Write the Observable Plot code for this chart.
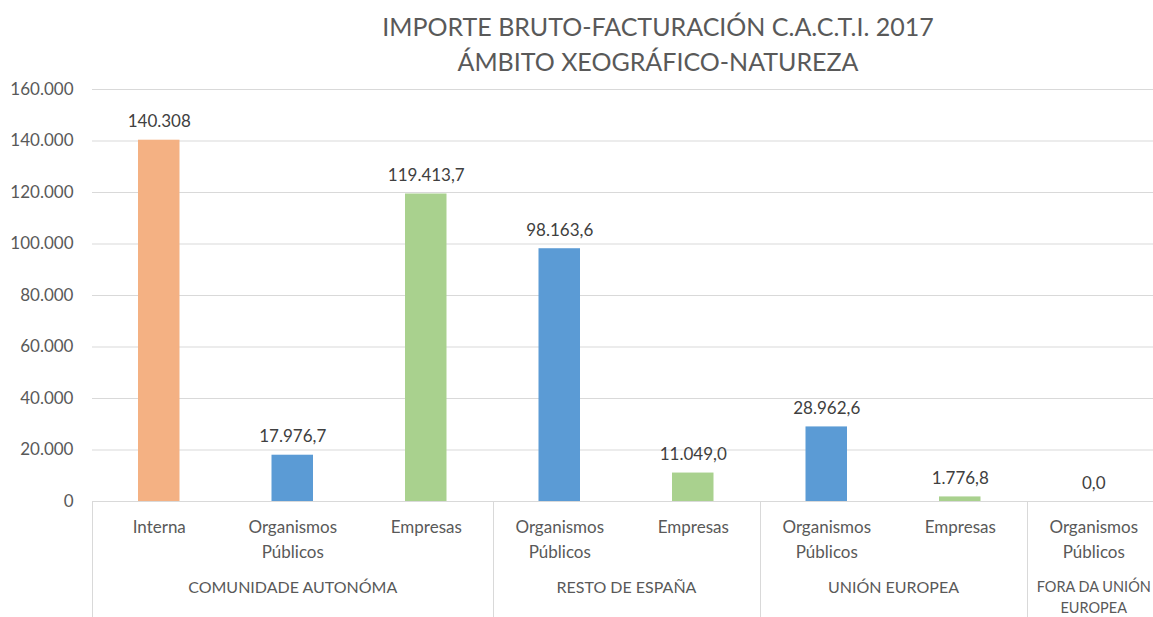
<!DOCTYPE html>
<html>
<head>
<meta charset="utf-8">
<script src="https://cdn.jsdelivr.net/npm/d3@7"></script>
<script src="https://cdn.jsdelivr.net/npm/@observablehq/plot@0.6"></script>
<style>
  html, body { margin: 0; padding: 0; background: #fff; overflow: hidden; }
  #wrap { position: relative; width: 1153px; height: 617px; overflow: hidden; }
  #title { position: absolute; top: 9px; left: 0; width: 1153px; box-sizing: border-box; padding-left: 163px;
           text-align: center; font-family: Lato, "Open Sans", sans-serif; font-size: 25px; line-height: 35px; color: #595959; }
</style>
</head>
<body>
<div id="wrap">
  <div id="title">IMPORTE BRUTO-FACTURACIÓN C.A.C.T.I. 2017<br>ÁMBITO XEOGRÁFICO-NATUREZA</div>
  <div id="chart"></div>
</div>
<script>
const categories = ["Interna", "Organismos\nPúblicos", "Empresas", "Organismos\nPúblicos", "Empresas", "Organismos\nPúblicos", "Empresas", "Organismos\nPúblicos"];
const natures = ["Interna", "Organismos Públicos", "Empresas", "Organismos Públicos", "Empresas", "Organismos Públicos", "Empresas", "Organismos Públicos"];
const groups = ["COMUNIDADE AUTONÓMA", "COMUNIDADE AUTONÓMA", "COMUNIDADE AUTONÓMA", "RESTO DE ESPAÑA", "RESTO DE ESPAÑA", "UNIÓN EUROPEA", "UNIÓN EUROPEA", "FORA DA UNIÓN\nEUROPEA"];
const values = [140308, 17976.7, 119413.7, 98163.6, 11049.0, 28962.6, 1776.8, 0.0];
const valueLabels = ["140.308", "17.976,7", "119.413,7", "98.163,6", "11.049,0", "28.962,6", "1.776,8", "0,0"];
const yTicks = [0, 20000, 40000, 60000, 80000, 100000, 120000, 140000, 160000];
const natureDomain = ["Interna", "Organismos Públicos", "Empresas"];
const natureColors = ["#F4B183", "#5B9BD5", "#A9D18E"];

const rows = values.map((v, i) => ({
  i0: i, i1: i + 1, mid: i + 0.5, value: v, label: valueLabels[i],
  category: categories[i], nature: natures[i], group: groups[i]
}));

const groupRows = [];
rows.forEach(r => {
  const last = groupRows[groupRows.length - 1];
  if (last && last.name === r.group) last.end = r.i1;
  else groupRows.push({name: r.group, start: r.i0, end: r.i1});
});
groupRows.forEach(g => g.mid = (g.start + g.end) / 2);
const bounds = [0, ...groupRows.map(g => g.end)];
const innerGroups = groupRows.filter(g => g.end < categories.length);
const edgeGroups = groupRows.filter(g => g.end >= categories.length);

const locale = d3.formatLocale({decimal: ",", thousands: ".", grouping: [3], currency: ["", "€"]});
const fmt = locale.format(",d");

const separators = (index, scales, values, dims) => {
  const g = d3.create("svg:g").attr("stroke", "#d9d9d9").attr("stroke-width", 1);
  const yb = dims.height - dims.marginBottom;
  for (const b of bounds) {
    const x = Math.round(scales.x(b)) + 0.5;
    g.append("line").attr("x1", x).attr("x2", x).attr("y1", yb).attr("y2", dims.height);
  }
  return g.node();
};

const chart = Plot.plot({
  width: 1153,
  height: 617,
  marginTop: 89,
  marginBottom: 116,
  marginLeft: 92,
  marginRight: -7,
  style: {fontFamily: "Lato, 'Open Sans', sans-serif", fontSize: "17px", color: "#595959", background: "transparent", overflow: "visible"},
  x: {domain: [0, categories.length], axis: null},
  y: {domain: [0, 160000], ticks: yTicks, tickFormat: fmt, tickSize: 0, tickPadding: 19, label: null},
  color: {domain: natureDomain, range: natureColors},
  marks: [
    Plot.ruleY(yTicks, {stroke: "#d9d9d9", strokeWidth: 1}),
    Plot.rectY(rows, {x1: "i0", x2: "i1", y: "value", fill: "nature", insetLeft: 46, insetRight: 46}),
    Plot.text(rows, {x: "mid", y: "value", text: "label", lineAnchor: "bottom", dy: -13, fill: "#404040", fontSize: 17}),
    Plot.text(rows, {x: "mid", text: "category", frameAnchor: "bottom", lineAnchor: "top", dy: 14, lineHeight: 1.45, fontSize: 17}),
    Plot.text(innerGroups, {x: "mid", text: "name", frameAnchor: "bottom", lineAnchor: "top", dy: 76, lineHeight: 1.4, fontSize: 16}),
    Plot.text(edgeGroups, {x: "mid", text: "name", frameAnchor: "bottom", lineAnchor: "top", dy: 76, lineHeight: 1.45, fontSize: 14.5}),
    separators
  ]
});
document.getElementById("chart").appendChild(chart);
</script>
</body>
</html>
